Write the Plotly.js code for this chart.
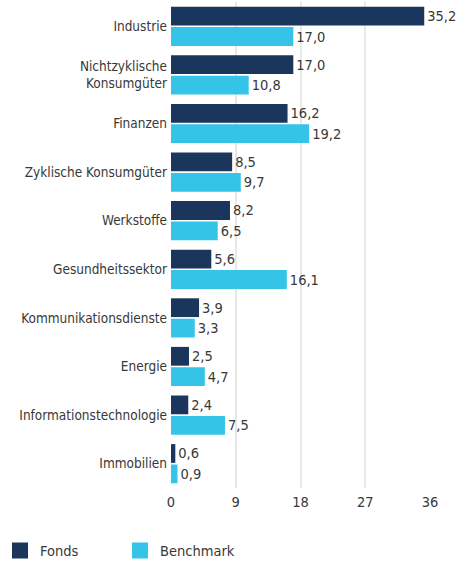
<!DOCTYPE html>
<html>
<head>
<meta charset="utf-8">
<script src="https://cdn.plot.ly/plotly-3.0.1.min.js"></script>
<style>html,body{margin:0;padding:0;background:#fff;}#chart{width:460px;height:563px;}</style>
</head>
<body>
<div id="chart"></div>
<script>
const categories = ["Industrie", "Nichtzyklische<br>Konsumgüter", "Finanzen", "Zyklische Konsumgüter", "Werkstoffe", "Gesundheitssektor", "Kommunikationsdienste", "Energie", "Informationstechnologie", "Immobilien"];
const fonds = [35.2, 17.0, 16.2, 8.5, 8.2, 5.6, 3.9, 2.5, 2.4, 0.6];
const benchmark = [17.0, 10.8, 19.2, 9.7, 6.5, 16.1, 3.3, 4.7, 7.5, 0.9];
const tickVals = [0, 9, 18, 27, 36];
const seriesNames = ["Fonds", "Benchmark"];

const FONT = '"Liberation Sans Narrow", "DejaVu Sans Condensed", "Roboto", sans-serif';
const C1 = '#1b365d', C2 = '#35c4e8', TXT = '#383838';

const barTrace = (vals, name, color) => ({
  type: 'bar', orientation: 'h', x: vals, y: categories, name: name,
  marker: {color: color}, showlegend: false,
  texttemplate: '%{x:.1f}', textposition: 'outside', cliponaxis: false,
  textfont: {family: FONT, size: 14.5, color: TXT}, hoverinfo: 'skip'
});
const legendTrace = (name, color) => ({
  type: 'scatter', mode: 'markers', x: [null], y: [null], name: name,
  marker: {symbol: 'square', size: 17, color: color}, showlegend: true
});

const data = [
  barTrace(fonds, seriesNames[0], C1),
  barTrace(benchmark, seriesNames[1], C2),
  legendTrace(seriesNames[0], C1),
  legendTrace(seriesNames[1], C2)
];

const layout = {
  width: 460, height: 563,
  margin: {l: 171, r: 30, t: 2, b: 75},
  paper_bgcolor: '#fff', plot_bgcolor: '#fff',
  separators: ',.',
  barmode: 'group', bargap: 0.16, bargroupgap: 0.08,
  font: {family: FONT, size: 14, color: TXT},
  xaxis: {range: [0, 36], tickvals: tickVals, ticktext: tickVals.map(String),
    showgrid: true, gridcolor: '#e8e8e8', gridwidth: 2, zeroline: false,
    showline: false, ticks: '', ticklabelstandoff: 3, automargin: false,
    tickfont: {family: FONT, size: 14.5, color: TXT}, fixedrange: true},
  yaxis: {type: 'category', autorange: 'reversed', showgrid: false, zeroline: false,
    showline: false, ticks: '', ticklabelstandoff: 3, automargin: false,
    tickfont: {family: FONT, size: 13.5, color: TXT}, fixedrange: true},
  legend: {orientation: 'h', xref: 'container', yref: 'container',
    x: -0.012, xanchor: 'left', y: 0.022, yanchor: 'middle',
    font: {family: FONT, size: 14.5, color: TXT}, itemwidth: 30, tracegroupgap: 0,
    traceorder: 'normal', entrywidth: 75, entrywidthmode: 'pixels'},
  showlegend: true
};

Plotly.newPlot('chart', data, layout, {displayModeBar: false, staticPlot: true});
</script>
</body>
</html>
